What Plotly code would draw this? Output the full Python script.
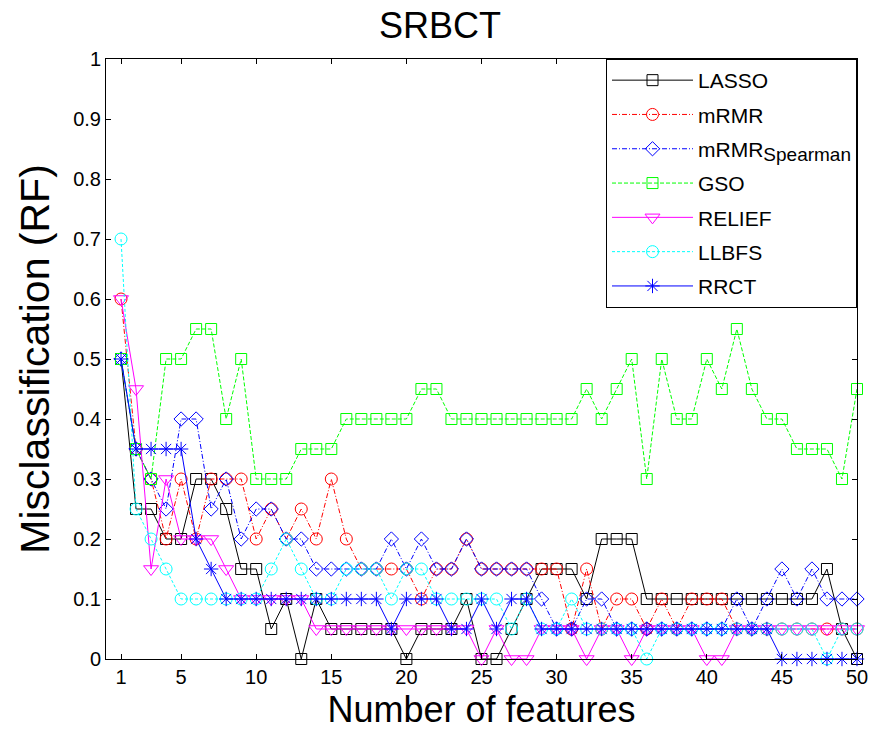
import plotly.graph_objects as go

features = list(range(1, 51))

lasso = [0.5,0.25,0.25,0.2,0.2,0.3,0.3,0.25,0.15,0.15,0.05,0.1,0,0.1,0.05,0.05,0.05,0.05,0.05,0,
         0.05,0.05,0.05,0.1,0,0,0.05,0.1,0.15,0.15,0.15,0.1,0.2,0.2,0.2,0.1,0.1,0.1,0.1,0.1,
         0.1,0.1,0.1,0.1,0.1,0.1,0.1,0.15,0.05,0]
mrmr = [0.6,0.35,0.3,0.2,0.3,0.2,0.3,0.3,0.3,0.2,0.25,0.2,0.25,0.2,0.3,0.2,0.15,0.15,0.15,0.15,
        0.1,0.15,0.15,0.2,0.15,0.15,0.15,0.15,0.15,0.15,0.05,0.15,0.05,0.1,0.1,0.05,0.1,0.05,0.1,0.1,
        0.1,0.05,0.05,0.05,0.05,0.05,0.05,0.05,0.05,0.05]
mrmr_spearman = [0.5,0.35,0.3,0.25,0.4,0.4,0.25,0.3,0.2,0.25,0.25,0.2,0.2,0.15,0.15,0.15,0.15,0.15,0.2,0.15,
                 0.2,0.15,0.15,0.2,0.15,0.15,0.15,0.15,0.1,0.05,0.05,0.1,0.1,0.05,0.05,0.05,0.05,0.05,0.05,0.05,
                 0.05,0.1,0.05,0.1,0.15,0.1,0.15,0.1,0.1,0.1]
gso = [0.5,0.35,0.3,0.5,0.5,0.55,0.55,0.4,0.5,0.3,0.3,0.3,0.35,0.35,0.35,0.4,0.4,0.4,0.4,0.4,
       0.45,0.45,0.4,0.4,0.4,0.4,0.4,0.4,0.4,0.4,0.4,0.45,0.4,0.45,0.5,0.3,0.5,0.4,0.4,0.5,
       0.45,0.55,0.45,0.4,0.4,0.35,0.35,0.35,0.3,0.45]
relief = [0.6,0.45,0.15,0.3,0.2,0.2,0.2,0.15,0.1,0.1,0.1,0.1,0.1,0.05,0.05,0.05,0.05,0.05,0.05,0.05,
          0.05,0.05,0.05,0.05,0,0.05,0,0,0.05,0.05,0.05,0,0.05,0.05,0,0.05,0.05,0.05,0.05,0,
          0,0.05,0.05,0.05,0.05,0.05,0.05,0.05,0.05,0.05]
llbfs = [0.7,0.25,0.2,0.15,0.1,0.1,0.1,0.1,0.1,0.1,0.15,0.2,0.15,0.1,0.1,0.15,0.15,0.15,0.1,0.15,
         0.15,0.1,0.1,0.1,0.1,0.1,0.05,0.1,0.05,0.05,0.1,0.05,0.05,0.05,0.05,0,0.05,0.05,0.05,0.05,
         0.05,0.05,0.05,0.05,0.05,0.05,0.05,0,0.05,0.05]
rrct = [0.5,0.35,0.35,0.35,0.35,0.2,0.15,0.1,0.1,0.1,0.1,0.1,0.1,0.1,0.1,0.1,0.1,0.1,0.05,0.1,
        0.1,0.1,0.05,0.05,0.1,0.05,0.1,0.1,0.05,0.05,0.05,0.05,0.05,0.05,0.05,0.05,0.05,0.05,0.05,0.05,
        0.05,0.05,0.05,0.05,0,0,0,0,0,0]

x_tickvals = [1, 5, 10, 15, 20, 25, 30, 35, 40, 45, 50]
y_tickvals = [0, 0.1, 0.2, 0.3, 0.4, 0.5, 0.6, 0.7, 0.8, 0.9, 1]

series = [
    ("LASSO", lasso, "#000000", "solid", "square-open", 11),
    ("mRMR", mrmr, "#ff0000", "5px,2px,1px,2px", "circle-open", 12),
    ("mRMR<sub><span style='font-size:19px'>Spearman</span></sub>", mrmr_spearman, "#0000ff",
     "5px,2px,1px,2px", "diamond-open", 11),
    ("GSO", gso, "#00ff00", "4px,2px", "square-open", 11),
    ("RELIEF", relief, "#ff00ff", "solid", "triangle-down-open", 13),
    ("LLBFS", llbfs, "#00ffff", "3px,2px", "circle-open", 12),
    ("RRCT", rrct, "#0000ff", "solid", "asterisk-open", 12),
]

FONT = "Liberation Sans, Arial, sans-serif"

fig = go.Figure()
for i, (name, vals, color, dash, sym, size) in enumerate(series):
    fig.add_trace(go.Scatter(
        x=features, y=vals, name=name, mode="lines+markers",
        line=dict(color=color, width=1, dash=dash),
        marker=dict(symbol=sym, size=size, color=color, line=dict(color=color, width=1)),
        cliponaxis=False, legendgroup=str(i),
    ))

axis_common = dict(
    showline=True, linecolor="black", linewidth=1, mirror="ticks",
    ticks="inside", ticklen=5, tickcolor="black", showgrid=False, zeroline=False,
    automargin=False,
    tickfont=dict(family=FONT, size=20, color="black"),
)

fig.update_layout(
    width=880, height=730,
    paper_bgcolor="white", plot_bgcolor="white",
    margin=dict(l=106, r=23, t=59, b=71),
    title=dict(text="SRBCT", x=0.5, xanchor="center", y=1 - 25 / 730, yanchor="middle",
               yref="container", font=dict(family=FONT, size=36, color="black")),
    xaxis=dict(range=[0, 50], tickvals=x_tickvals, ticktext=[str(v) for v in x_tickvals],
               title=dict(text="Number of features", font=dict(family=FONT, size=36, color="black"), standoff=9),
               **axis_common),
    yaxis=dict(range=[0, 1], tickvals=y_tickvals, ticktext=[f"{v:g}" for v in y_tickvals],
               title=dict(text="Misclassification (RF)", font=dict(family=FONT, size=41, color="black"), standoff=10),
               **axis_common),
    legend=dict(x=1, xanchor="right", y=1, yanchor="top", bgcolor="white",
                bordercolor="black", borderwidth=1, font=dict(family=FONT, size=21, color="black"),
                itemwidth=81, tracegroupgap=4),
    showlegend=True,
)

fig.write_html("out.html", config={"displayModeBar": False},
               post_script="document.body.style.margin='0';")
